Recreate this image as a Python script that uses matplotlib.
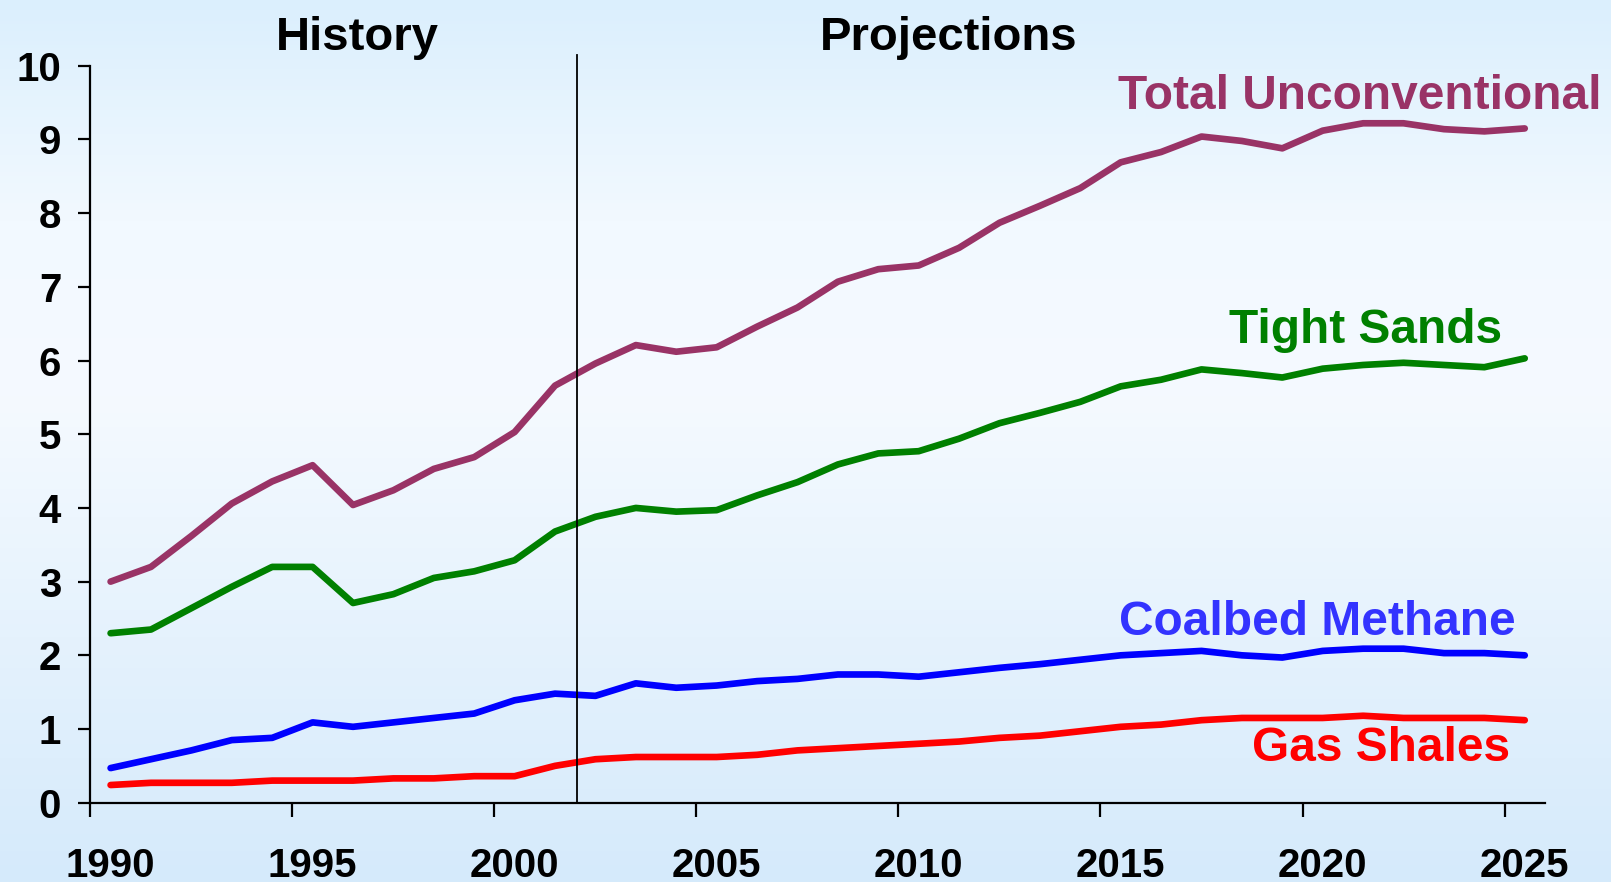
import matplotlib
matplotlib.use("Agg")
import matplotlib.pyplot as plt
import numpy as np
from matplotlib.colors import LinearSegmentedColormap

plt.rcParams['font.family'] = ['Liberation Sans', 'DejaVu Sans']
plt.rcParams['font.weight'] = 'bold'

years = list(range(1990, 2026))

total_unconv = [3.00, 3.20, 3.62, 4.06, 4.36, 4.58, 4.04, 4.24, 4.53, 4.69,
                5.03, 5.66, 5.96, 6.21, 6.12, 6.18, 6.46, 6.72, 7.07, 7.24,
                7.29, 7.53, 7.87, 8.10, 8.34, 8.69, 8.83, 9.04, 8.98, 8.88,
                9.12, 9.22, 9.22, 9.14, 9.11, 9.15]
tight_sands = [2.30, 2.35, 2.64, 2.93, 3.20, 3.20, 2.71, 2.83, 3.05, 3.14,
               3.29, 3.68, 3.88, 4.00, 3.95, 3.97, 4.17, 4.35, 4.59, 4.74,
               4.77, 4.94, 5.15, 5.29, 5.44, 5.65, 5.74, 5.88, 5.83, 5.77,
               5.89, 5.94, 5.97, 5.94, 5.91, 6.03]
coalbed = [0.47, 0.59, 0.71, 0.85, 0.88, 1.09, 1.03, 1.09, 1.15, 1.21,
           1.39, 1.48, 1.45, 1.62, 1.56, 1.59, 1.65, 1.68, 1.74, 1.74,
           1.71, 1.77, 1.83, 1.88, 1.94, 2.00, 2.03, 2.06, 2.00, 1.97,
           2.06, 2.09, 2.09, 2.03, 2.03, 2.00]
gas_shales = [0.24, 0.27, 0.27, 0.27, 0.30, 0.30, 0.30, 0.33, 0.33, 0.36,
              0.36, 0.50, 0.59, 0.62, 0.62, 0.62, 0.65, 0.71, 0.74, 0.77,
              0.80, 0.83, 0.88, 0.91, 0.97, 1.03, 1.06, 1.12, 1.15, 1.15,
              1.15, 1.18, 1.15, 1.15, 1.15, 1.12]

label_years = [1990, 1995, 2000, 2005, 2010, 2015, 2020, 2025]
y_ticks = list(range(0, 11))
split_year = 2001.55

fig = plt.figure(figsize=(16.11, 8.82), dpi=100)

# background gradient
bg = fig.add_axes([0, 0, 1, 1], zorder=-10)
cmap = LinearSegmentedColormap.from_list(
    "bg", [(0.0, "#d5eafb"), (0.55, "#f5faff"), (0.75, "#f2f9ff"), (1.0, "#dbeffd")])
grad = np.linspace(0, 1, 256).reshape(-1, 1)
bg.imshow(grad, aspect='auto', cmap=cmap, origin='lower', extent=[0, 1, 0, 1])
bg.axis('off')

ax = fig.add_axes([0.0561, 0.0899, 0.9029, 0.8355])
ax.patch.set_alpha(0)

lw = 4.8
ax.plot(years, total_unconv, color='#993366', lw=lw, solid_capstyle='round')
ax.plot(years, tight_sands, color='#008000', lw=lw, solid_capstyle='round')
ax.plot(years, coalbed, color='#0000ff', lw=lw, solid_capstyle='round')
ax.plot(years, gas_shales, color='#ff0000', lw=lw, solid_capstyle='round')

ax.plot([split_year, split_year], [0, 10.14], color='black', lw=1.3, clip_on=False)

ax.set_xlim(1989.5, 2025.5)
ax.set_ylim(0, 10)

for s in ['top', 'right']:
    ax.spines[s].set_visible(False)
for s in ['left', 'bottom']:
    ax.spines[s].set_linewidth(1.6)

# ticks between categories, labels on categories
ax.set_xticks([y - 0.5 for y in label_years])
ax.set_xticklabels([])
ax.set_xticks(label_years, minor=True)
ax.set_xticklabels([str(y) for y in label_years], minor=True, fontsize=29, fontweight='bold')
ax.tick_params(axis='x', which='major', direction='out', length=10, width=1.6)
ax.tick_params(axis='x', which='minor', length=0, pad=32)

ax.set_yticks(y_ticks)
ax.set_yticklabels([str(v) for v in y_ticks], fontsize=29, fontweight='bold')
ax.tick_params(axis='y', direction='out', length=9, width=1.6, pad=12)

ax.text(1996.1, 10.38, "History", fontsize=34, fontweight='bold', ha='center', va='center', clip_on=False)
ax.text(2010.75, 10.38, "Projections", fontsize=34, fontweight='bold', ha='center', va='center', clip_on=False)

ax.text(2014.94, 9.58, "Total Unconventional", color='#993366', fontsize=34.5, fontweight='bold', va='center')
ax.text(2017.69, 6.41, "Tight Sands", color='#008000', fontsize=34.5, fontweight='bold', va='center')
ax.text(2014.96, 2.45, "Coalbed Methane", color='#3333ff', fontsize=34.5, fontweight='bold', va='center')
ax.text(2018.25, 0.74, "Gas Shales", color='#ff0000', fontsize=34.5, fontweight='bold', va='center')

fig.savefig("out.png", dpi=100)
